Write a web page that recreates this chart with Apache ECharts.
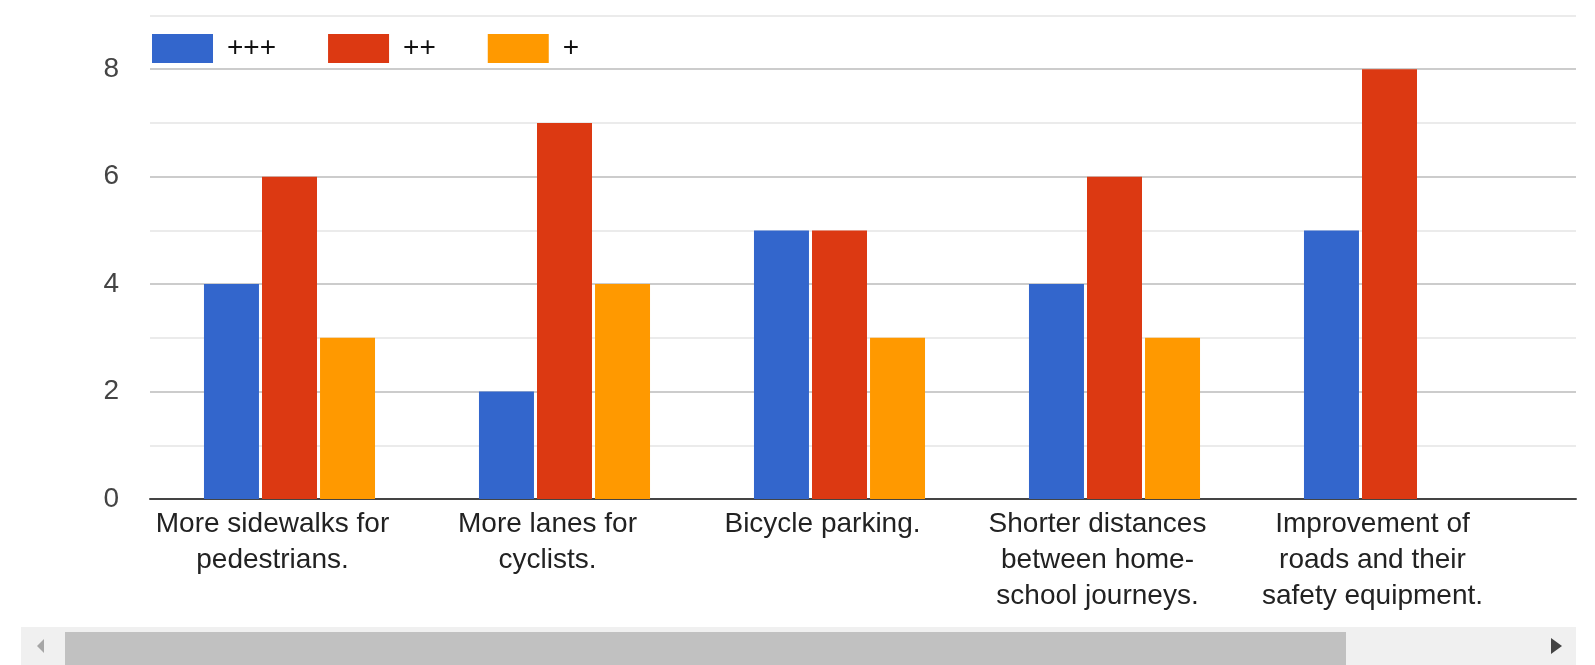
<!DOCTYPE html>
<html>
<head>
<meta charset="utf-8">
<script src="https://cdn.jsdelivr.net/npm/echarts@6/dist/echarts.min.js"></script>
<style>
html,body{margin:0;padding:0;background:#fff;}
#c{width:1595px;height:665px;}
</style>
</head>
<body>
<div id="c"></div>
<script>
const categories = [
  "More sidewalks for pedestrians.",
  "More lanes for cyclists.",
  "Bicycle parking.",
  "Shorter distances between home-school journeys.",
  "Improvement of roads and their safety equipment."
];
const categoryLabels = [
  "More sidewalks for\npedestrians.",
  "More lanes for\ncyclists.",
  "Bicycle parking.",
  "Shorter distances\nbetween home-\nschool journeys.",
  "Improvement of\nroads and their\nsafety equipment."
];
const seriesNames = ["+++", "++", "+"];
const valuesHigh = [4, 2, 5, 4, 5];
const valuesMid = [6, 7, 5, 6, 8];
const valuesLow = [3, 4, 3, 3, 0];
const yTicks = [0, 2, 4, 6, 8];
const colors = ["#3366CC", "#DC3912", "#FF9900"];

const FONT = "'Liberation Sans', Arial, sans-serif";
const chart = echarts.init(document.getElementById('c'), null, {renderer: 'canvas'});
const seriesData = [valuesHigh, valuesMid, valuesLow];

const option = {
  backgroundColor: '#ffffff',
  animation: false,
  textStyle: {fontFamily: FONT},
  legend: {
    left: 147, top: 29,
    itemWidth: 61, itemHeight: 29, itemGap: 52,
    icon: 'rect',
    data: seriesNames,
    textStyle: {fontSize: 28, color: '#111', fontFamily: FONT, padding: [0, 0, 0, 9]}
  },
  grid: [
    {left: 150, right: 19, top: 15.5, bottom: 166},
    {left: 152, width: 1375, top: 15.5, bottom: 166}
  ],
  xAxis: [
    {gridIndex: 0, type: 'value', min: 0, max: 1, position: 'bottom',
     axisLine: {show: true, onZero: false, lineStyle: {color: '#444', width: 2}},
     axisTick: {show: false}, axisLabel: {show: false}, splitLine: {show: false}},
    {gridIndex: 1, type: 'category', data: categories,
     axisLine: {show: false}, axisTick: {show: false},
     axisLabel: {
       interval: 0, margin: 7, fontSize: 28, lineHeight: 36, color: '#222',
       fontFamily: FONT, align: 'center', padding: [0, 34, 0, 0],
       formatter: function (v, i) { return categoryLabels[i]; }
     }}
  ],
  yAxis: [
    {gridIndex: 0, type: 'value', min: 0, max: 9, interval: 1,
     axisLine: {show: false}, axisTick: {show: false},
     axisLabel: {
       margin: 31, fontSize: 28, color: '#444', fontFamily: FONT,
       formatter: function (v) { return yTicks.indexOf(v) >= 0 ? String(v) : ''; }
     },
     splitLine: {show: true, lineStyle: {color: ['#cccccc', '#ebebeb'], width: 2}}},
    {gridIndex: 1, type: 'value', min: 0, max: 9, show: false, splitLine: {show: false}}
  ],
  series: seriesNames.map(function (name, k) {
    return {
      name: name, type: 'bar', xAxisIndex: 1, yAxisIndex: 1,
      data: seriesData[k], barWidth: 55, barGap: '5.5%',
      itemStyle: {color: colors[k]}
    };
  }),
  graphic: [
    {type: 'rect', shape: {x: 21, y: 627, width: 1555, height: 38}, style: {fill: '#f0f0f0'}, silent: true},
    {type: 'rect', shape: {x: 65, y: 632, width: 1281, height: 33}, style: {fill: '#c1c1c1'}, silent: true},
    {type: 'polygon', shape: {points: [[37, 646], [44, 639], [44, 653]]}, style: {fill: '#a6a6a6'}, silent: true},
    {type: 'polygon', shape: {points: [[1562, 646], [1551, 638], [1551, 654]]}, style: {fill: '#444444'}, silent: true}
  ]
};
chart.setOption(option);
</script>
</body>
</html>
